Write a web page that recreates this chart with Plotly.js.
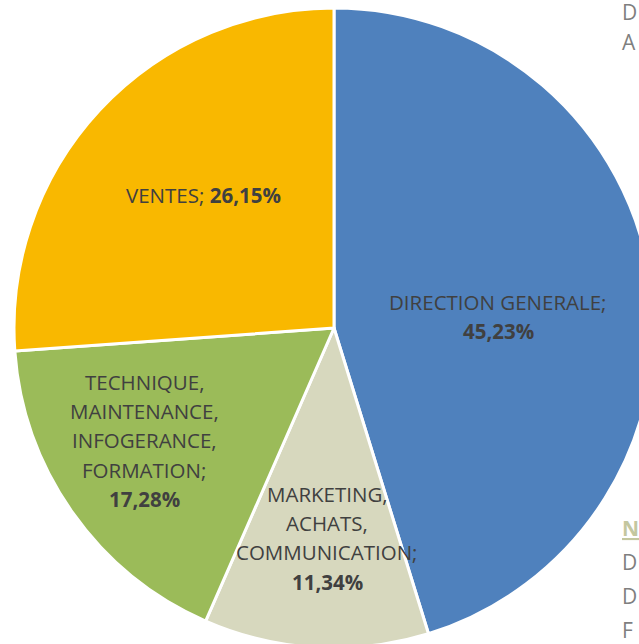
<!DOCTYPE html>
<html>
<head>
<meta charset="utf-8">
<script src="https://cdn.plot.ly/plotly-3.0.1.min.js"></script>
<style>
  html, body { margin: 0; padding: 0; overflow: hidden; background: #fff; }
  #pieChart { width: 700px; height: 700px; }
</style>
</head>
<body>
<div id="pieChart"></div>
<script>
// slice data, clockwise from 12 o'clock
var categories = [
    "DIRECTION GENERALE",
    "MARKETING, ACHATS, COMMUNICATION",
    "TECHNIQUE, MAINTENANCE, INFOGERANCE, FORMATION",
    "VENTES"
];
var shares = [45.23, 11.34, 17.28, 26.15];
var sliceColors = ["#4F81BD", "#D7D8BE", "#9BBB59", "#F9B800"];

// cut-off legend text on the right edge
var legendTop = ["D", "A"];
var legendBottom = ["N", "D", "D", "F"];

var W = 700, H = 700;
var px = function (v) { return v / W; };
var py = function (v) { return 1 - v / H; };

// where each data label sits (pixel centre of first line) and how it wraps
var labelSpots = [
    { x: 498, y: 302, wrap: false, inline: false },
    { x: 327, y: 494, wrap: true, inline: false },
    { x: 144, y: 382, wrap: true, inline: false },
    { x: 203, y: 195, wrap: false, inline: true }
];

function pct(v) {
    return v.toFixed(2).replace(".", ",") + "%";
}

document.addEventListener("DOMContentLoaded", function () {
    drawPieChart();
});

function drawPieChart() {
    let data = [{
        type: "pie",
        labels: categories,
        values: shares,
        sort: false,
        direction: "clockwise",
        rotation: 0,
        textinfo: "none",
        hoverinfo: "label+percent",
        marker: { colors: sliceColors, line: { color: "#ffffff", width: 3 } },
        domain: { x: [px(14), px(654)], y: [py(648), py(8)] },
        showlegend: false
    }];

    let labelFont = { family: "Open Sans, sans-serif", size: 20.5, color: "#404040" };
    let annotations = [];
    categories.forEach(function (cat, i) {
        let spot = labelSpots[i];
        let lines;
        if (spot.inline) {
            lines = [cat + "; <b>" + pct(shares[i]) + "</b>"];
        } else if (spot.wrap) {
            lines = (cat + ";").split(" ");
            lines.push("<b>" + pct(shares[i]) + "</b>");
        } else {
            lines = [cat + ";", "<b>" + pct(shares[i]) + "</b>"];
        }
        lines.forEach(function (t, k) {
            annotations.push({
                xref: "paper", yref: "paper",
                x: px(spot.x), y: py(spot.y + k * 29.2),
                xanchor: "center", yanchor: "middle",
                text: t, showarrow: false, font: labelFont
            });
        });
    });

    let edgeFont = { family: "Open Sans, sans-serif", size: 21, color: "#7F7F7F" };
    legendTop.forEach(function (t, k) {
        annotations.push({
            xref: "paper", yref: "paper", x: px(620), y: py(12 + k * 30),
            xanchor: "left", yanchor: "middle", text: t, showarrow: false, font: edgeFont
        });
    });
    legendBottom.forEach(function (t, k) {
        let f = k === 0 ? { family: edgeFont.family, size: 21, color: "#C4C79F" } : edgeFont;
        annotations.push({
            xref: "paper", yref: "paper", x: px(620), y: py(528 + k * 34),
            xanchor: "left", yanchor: "middle",
            text: k === 0 ? "<b><u>" + t + "</u></b>" : t,
            showarrow: false, font: f
        });
    });

    let layout = {
        width: W, height: H,
        margin: { l: 0, r: 0, t: 0, b: 0 },
        paper_bgcolor: "#ffffff",
        showlegend: false,
        annotations: annotations
    };
    Plotly.newPlot("pieChart", data, layout, { displayModeBar: false, staticPlot: true });
}
</script>
</body>
</html>
